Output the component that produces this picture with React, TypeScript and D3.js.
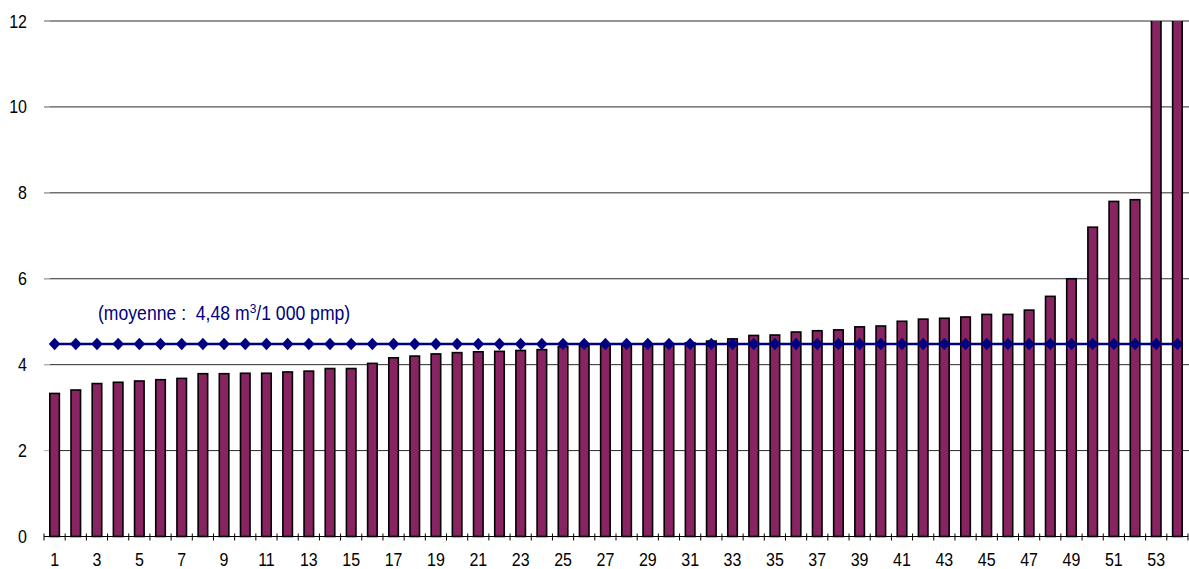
import React from "react";
import * as d3 from "d3";

const categories: number[] = [
  1, 2, 3, 4, 5, 6, 7, 8, 9, 10, 11, 12, 13, 14, 15, 16, 17, 18,
  19, 20, 21, 22, 23, 24, 25, 26, 27, 28, 29, 30, 31, 32, 33, 34, 35, 36,
  37, 38, 39, 40, 41, 42, 43, 44, 45, 46, 47, 48, 49, 50, 51, 52, 53, 54,
];
const values: number[] = [
  3.33, 3.41, 3.56, 3.59, 3.62, 3.65, 3.68, 3.79, 3.79, 3.8, 3.8, 3.83, 3.85, 3.91, 3.91, 4.03, 4.16, 4.2,
  4.25, 4.28, 4.3, 4.31, 4.33, 4.35, 4.42, 4.44, 4.46, 4.47, 4.48, 4.49, 4.51, 4.55, 4.6, 4.68, 4.69, 4.76,
  4.79, 4.81, 4.88, 4.9, 5.01, 5.06, 5.08, 5.11, 5.17, 5.17, 5.27, 5.59, 6.0, 7.2, 7.8, 7.84, 13.5, 16.0,
];
const meanValue = 4.48;
const yTicks: number[] = [0, 2, 4, 6, 8, 10, 12];
const xTickLabels: number[] = [1, 3, 5, 7, 9, 11, 13, 15, 17, 19, 21, 23, 25, 27, 29, 31, 33, 35, 37, 39, 41, 43, 45, 47, 49, 51, 53];

const W = 1189;
const H = 569;
const left = 44;
const right = 1188;
const top = 21;
const bottom = 536.5;

export default function App() {
  const x = d3.scaleBand<number>().domain(categories).range([left, right]).paddingInner(0.55).paddingOuter(0.275);
  const y = d3.scaleLinear().domain([0, 12]).range([bottom, top]);
  const step = x.step();
  const bw = x.bandwidth();
  const cx = (c: number) => (x(c) as number) + bw / 2;
  const font = "'Liberation Sans', Arial, sans-serif";
  const line = d3.line<number>().x((c) => cx(c)).y(() => y(meanValue));
  const my = y(meanValue);

  return (
    <svg width={W} height={H} style={{ position: "absolute", left: 0, top: 0, background: "#fff" }}>
      <defs>
        <clipPath id="plot">
          <rect x={left} y={y(12)} width={right - left + 2} height={bottom - y(12) + 2} />
        </clipPath>
      </defs>
      {yTicks.filter((t) => t > 0).map((t) => (
        <g key={t}>
          <line x1={left} x2={W} y1={y(t)} y2={y(t)} stroke="#2a2a2a" strokeWidth={1} />
          <line x1={left} x2={left + 6} y1={y(t)} y2={y(t)} stroke="#c8c8c8" strokeWidth={1} />
        </g>
      ))}
      {yTicks.map((t) => (
        <text key={t} x={27} y={0} textAnchor="end" fontFamily={font} fontSize={16}
          transform={`translate(0, ${y(t) + 6.5}) scale(1, 1.15)`} fill="#000">{t}</text>
      ))}
      <g clipPath="url(#plot)">
        {categories.map((c, i) => (
          <rect key={c} x={x(c)} y={y(values[i])} width={bw} height={bottom - y(values[i])}
            fill="#882462" stroke="#000" strokeWidth={1.6} />
        ))}
      </g>
      <line x1={left} x2={right} y1={bottom} y2={bottom} stroke="#000" strokeWidth={1.2} />
      {d3.range(categories.length + 1).map((i) => (
        <line key={i} x1={left + i * step} x2={left + i * step} y1={bottom - 3} y2={bottom + 4} stroke="#000" strokeWidth={1} />
      ))}
      {xTickLabels.map((c) => (
        <text key={c} x={cx(c)} y={0} textAnchor="middle" fontFamily={font} fontSize={16}
          transform={`translate(0, 566) scale(1, 1.12)`} fill="#000">{c}</text>
      ))}
      <path d={line(categories) || ""} fill="none" stroke="#000080" strokeWidth={2.5} />
      {categories.map((c) => (
        <path key={c} d={`M${cx(c)},${my - 6.3}L${cx(c) + 5.8},${my}L${cx(c)},${my + 6.3}L${cx(c) - 5.8},${my}Z`}
          fill="#000080" />
      ))}
      <text x={98} y={0} fontFamily={font} fontSize={17.6} fill="#000080" style={{ whiteSpace: "pre" }}
        transform={`translate(0, 320) scale(1, 1.1)`}>
        {"(moyenne :  4,48 m"}<tspan dy={-6.5} fontSize={12}>3</tspan><tspan dy={6.5}>{"/1 000 pmp)"}</tspan>
      </text>
    </svg>
  );
}
